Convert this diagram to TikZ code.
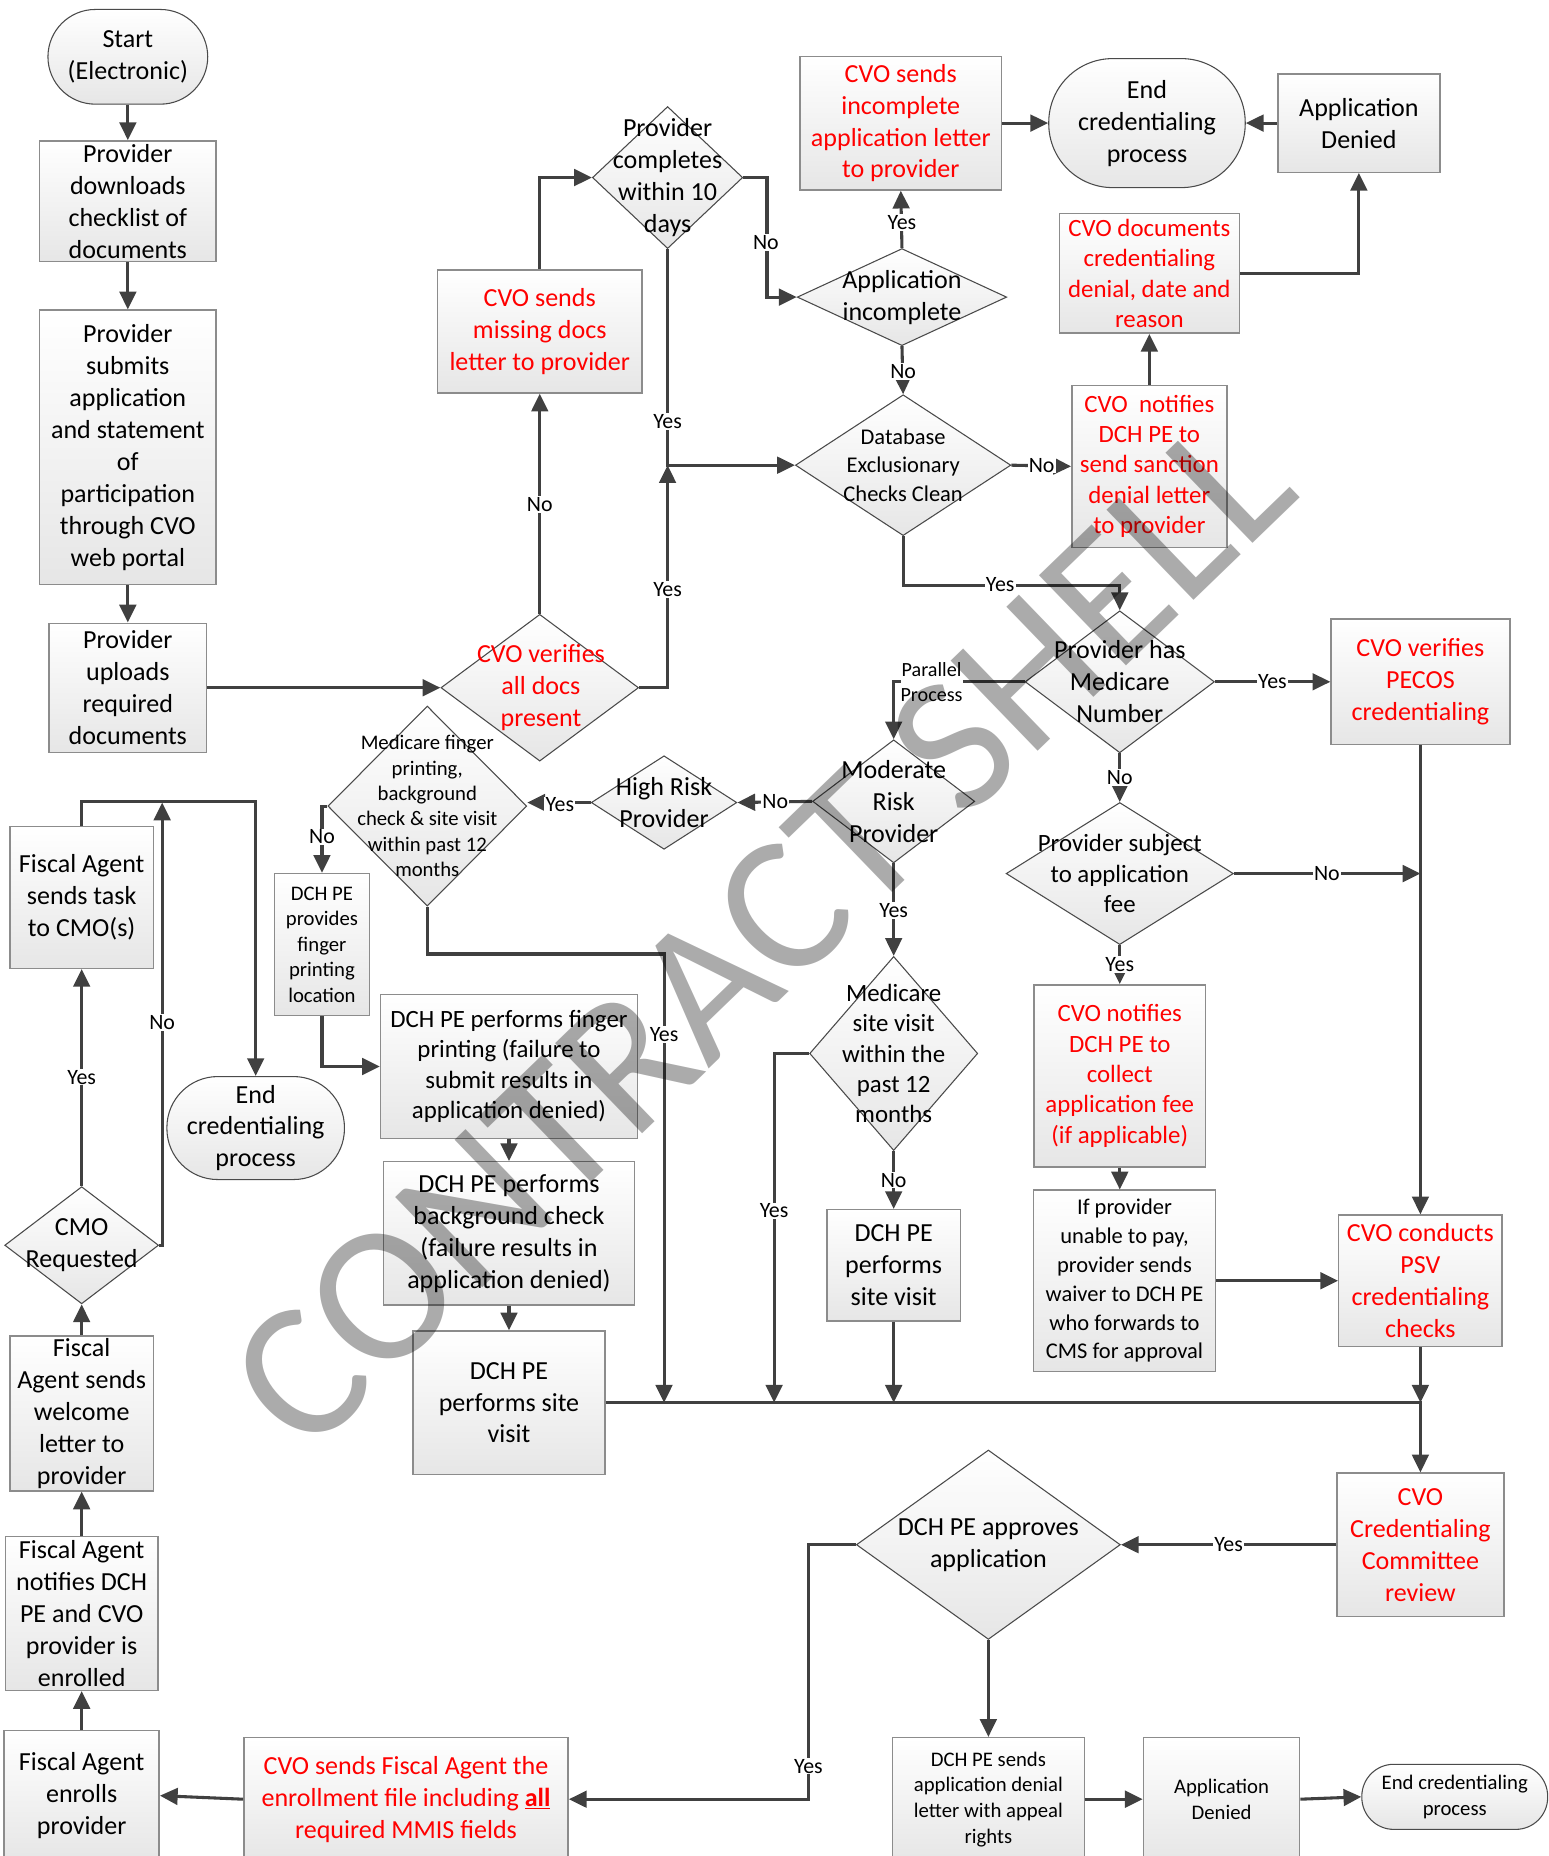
\documentclass[tikz,border=0pt]{standalone}
\usepackage{fontspec}
\setmainfont{Carlito}
\usetikzlibrary{shapes.geometric,arrows.meta,calc}
\newcommand\fsz[2]{\fontsize{#1}{#2}\selectfont}
\definecolor{linegray}{HTML}{404040}
\definecolor{boxgray}{HTML}{8C8C8C}
\definecolor{diagray}{HTML}{4A4A4A}
\definecolor{fillgray}{HTML}{E6E6E6}
\definecolor{cred}{HTML}{FF0000}
\begin{document}
\begin{tikzpicture}[x=1pt,y=-1pt,
  box/.style={rectangle,draw=boxgray,line width=1.2pt,top color=white,bottom color=fillgray,inner sep=0pt,align=center,font=\fsz{22}{27}},
  term/.style={rectangle,draw=diagray,line width=0.9pt,top color=white,bottom color=fillgray,inner sep=0pt,align=center,font=\fsz{22}{27}},
  dia/.style={diamond,draw=diagray,line width=0.9pt,top color=white,bottom color=fillgray,inner sep=0pt},
  txt/.style={align=center,inner sep=0pt,font=\fsz{22}{27}},
  rtxt/.style={text=cred},
  lab/.style={fill=white,inner sep=1pt,font=\fsz{18.5}{20}},
  arr/.style={draw=linegray,line width=2.6pt,-{Triangle[length=15pt,width=14pt]}},
]
\useasboundingbox (0,0) rectangle (1308,1568);

% ---------- left column ----------
\node[term,minimum width=135pt,minimum height=80pt,rounded corners=40pt] (start) at (108,48) {Start\\(Electronic)};
\node[box,minimum width=149pt,minimum height=102pt] (down) at (108,170) {Provider\\downloads\\checklist of\\documents};
\node[box,minimum width=149pt,minimum height=232pt] (sub) at (108,378) {Provider\\submits\\application\\and statement\\of\\participation\\through CVO\\web portal};
\node[box,minimum width=133pt,minimum height=109pt] (up) at (108,581) {Provider\\uploads\\required\\documents};

% ---------- CVO verifies ----------
\node[dia,minimum width=167pt,minimum height=124pt] (verify) at (456,581) {};
\node[txt,rtxt] (verify-t) at (457,581) {CVO verifies\\all docs\\present};
\node[box,rtxt,minimum width=173pt,minimum height=104pt] (miss) at (456,280) {CVO sends\\missing docs\\letter to provider};

\node[dia,minimum width=127pt,minimum height=120pt] (compl) at (564,150) {};
\node[txt] (compl-t) at (564,150) {Provider\\completes\\within 10\\days};

\node[box,rtxt,minimum width=170pt,minimum height=113pt] (incl) at (761,104) {CVO sends\\incomplete\\application letter\\to provider};
\node[dia,minimum width=177pt,minimum height=82pt] (inc) at (762,251) {};
\node[txt] (inc-t) at (762,251) {Application\\incomplete};
\node[dia,minimum width=182pt,minimum height=119pt] (db) at (763,393) {};
\node[txt,font=\fsz{19}{24}] (db-t) at (763,393) {Database\\Exclusionary\\Checks Clean};

\node[term,minimum width=166pt,minimum height=109pt,rounded corners=54pt] (end1) at (969,104) {End\\credentialing\\process};
\node[box,minimum width=137pt,minimum height=83pt] (den1) at (1148,104) {Application\\Denied};
\node[box,rtxt,minimum width=152pt,minimum height=101pt,font=\fsz{21}{25.7}] (cvodoc) at (971,231) {CVO documents\\credentialing\\denial, date and\\reason};
\node[box,rtxt,minimum width=131pt,minimum height=137pt,font=\fsz{21}{25.7}] (sanc) at (971,394) {CVO~~notifies\\DCH PE to\\send sanction\\denial letter\\to provider};

% ---------- Medicare / risk ----------
\node[dia,minimum width=160pt,minimum height=120pt] (medi) at (946,576) {};
\node[txt] (medi-t) at (946,576) {Provider has\\Medicare\\Number};
\node[box,rtxt,minimum width=151pt,minimum height=106pt] (pecos) at (1200,576) {CVO verifies\\PECOS\\credentialing};

\node[dia,minimum width=137pt,minimum height=104pt] (mod) at (755,677) {};
\node[txt] (mod-t) at (755,677) {Moderate\\Risk\\Provider};
\node[dia,minimum width=123pt,minimum height=79pt] (high) at (561,678) {};
\node[txt] (high-t) at (561,678) {High Risk\\Provider};
\node[dia,minimum width=168pt,minimum height=169pt] (fing) at (361,681) {};
\node[txt,font=\fsz{17.5}{21.5}] (fing-t) at (361,681) {Medicare finger\\printing,\\background\\check \& site visit\\within past 12\\months};
\node[box,minimum width=80pt,minimum height=120pt,font=\fsz{17.5}{21.5}] (prov) at (272,798) {DCH PE\\provides\\finger\\printing\\location};
\node[box,minimum width=217pt,minimum height=122pt,font=\fsz{21}{25.7}] (fp) at (430,901) {DCH PE performs finger\\printing (failure to\\submit results in\\application denied)};
\node[box,minimum width=212pt,minimum height=121pt] (bg) at (430,1042) {DCH PE performs\\background check\\(failure results in\\application denied)};
\node[box,minimum width=162pt,minimum height=121pt] (sv) at (430,1185) {DCH PE\\performs site\\visit};

\node[dia,minimum width=142pt,minimum height=164pt] (msv) at (755,890) {};
\node[txt,font=\fsz{21}{25.7}] (msv-t) at (755,890) {Medicare\\site visit\\within the\\past 12\\months};
\node[box,minimum width=113pt,minimum height=94pt] (sv2) at (755,1069) {DCH PE\\performs\\site visit};

\node[dia,minimum width=192pt,minimum height=120pt] (fee) at (946,738) {};
\node[txt,font=\fsz{21}{26}] (fee-t) at (946,738) {Provider subject\\to application\\fee};
\node[box,rtxt,minimum width=145pt,minimum height=154pt,font=\fsz{21}{25.7}] (coll) at (946,909) {CVO notifies\\DCH PE to\\collect\\application fee\\(if applicable)};
\node[box,minimum width=154pt,minimum height=153pt,font=\fsz{19}{24.4}] (waiv) at (950,1082) {If provider\\unable to pay,\\provider sends\\waiver to DCH PE\\who forwards to\\CMS for approval};
\node[box,rtxt,minimum width=138pt,minimum height=111pt] (psv) at (1200,1082) {CVO conducts\\PSV\\credentialing\\checks};
\node[box,rtxt,minimum width=141pt,minimum height=121pt] (comm) at (1200,1305) {CVO\\Credentialing\\Committee\\review};

\node[dia,minimum width=223pt,minimum height=160pt] (appr) at (835,1305) {};
\node[txt] (appr-t) at (835,1305) {DCH PE approves\\application};
\node[box,minimum width=162pt,minimum height=104pt,font=\fsz{17.5}{21.7}] (dsend) at (835,1520) {DCH PE sends\\application denial\\letter with appeal\\rights};
\node[box,minimum width=132pt,minimum height=104pt,font=\fsz{17.5}{21.5}] (den2) at (1032,1520) {Application\\Denied};
\node[term,minimum width=157pt,minimum height=55pt,rounded corners=27pt,font=\fsz{17.5}{21.5}] (end3) at (1229,1518) {End credentialing\\process};

% ---------- bottom-left ----------
\node[box,rtxt,minimum width=274pt,minimum height=104pt] (file) at (343,1520) {CVO sends Fiscal Agent the\\enrollment file including \textbf{\underline{all}}\\required MMIS fields};
\node[box,minimum width=131pt,minimum height=110pt] (enr) at (69,1517) {Fiscal Agent\\enrolls\\provider};
\node[box,minimum width=129pt,minimum height=130pt] (notif) at (69,1363) {Fiscal Agent\\notifies DCH\\PE and CVO\\provider is\\enrolled};
\node[box,minimum width=121pt,minimum height=131pt] (wel) at (69,1194) {Fiscal\\Agent sends\\welcome\\letter to\\provider};
\node[dia,minimum width=130pt,minimum height=99pt] (cmo) at (69,1052) {};
\node[txt] (cmo-t) at (69,1052) {CMO\\Requested};
\node[box,minimum width=121pt,minimum height=120pt] (task) at (69,758) {Fiscal Agent\\sends task\\to CMO(s)};
\node[term,minimum width=150pt,minimum height=87pt,rounded corners=43pt] (end2) at (216,953) {End\\credentialing\\process};

% ---------- junctions ----------
\coordinate (j1) at (564,393);
\coordinate (j2) at (561,1185);
\coordinate (j3) at (654,1185);
\coordinate (j4) at (137,678);

% ---------- connectors ----------
\draw[arr] (start.south) -- (down.north);
\draw[arr] (down.south) -- (sub.north);
\draw[arr] (sub.south) -- (up.north);
\draw[arr] (up.east) -- (verify.west);
\draw[arr] (verify.north) -- (miss.south);
\draw[arr] (miss.north) |- (compl.west);
\draw[arr] (verify.east) -| (j1);
\draw[arr] (compl.south) -- (j1) -- (db.west);
\draw[arr] (compl.east) -- ++(20,0) |- (inc.west);
\draw[arr] (inc.north) -- (incl.south);
\draw[arr] (inc.south) -- (db.north);
\draw[arr] (incl.east) -- (incl.east -| end1.west);
\draw[arr] (den1.west) -- (den1.west -| end1.east);
\draw[arr] (cvodoc.east) -| (den1.south);
\draw[arr] (sanc.north) -- (cvodoc.south);
\draw[arr] (db.east) -- (sanc.west);
\draw[arr] (db.south) -- ++(0,42) -| (medi.north);
\draw[arr] (medi.east) -- (pecos.west);
\draw[arr] (medi.west) -| (mod.north);
\draw[arr] (mod.west) -- (high.east);
\draw[arr] (high.west) -- (high.west -| fing.east);
\draw[arr] (fing.west) -| (prov.north);
\draw[arr] (fing.south) -- ++(0,40) -| (j2);
\draw[arr] (prov.south) |- (fp.west);
\draw[arr] (fp.south) -- (bg.north);
\draw[arr] (bg.south) -- (sv.north);
\draw[arr] (sv.east) -| (comm.north);
\draw[arr] (msv.west) -| (j3);
\draw[arr] (msv.south) -- (sv2.north);
\draw[arr] (sv2.south) -- (sv2.south |- j3);
\draw[arr] (mod.south) -- (msv.north);
\draw[arr] (medi.south) -- (fee.north);
\draw[arr] (fee.east) -- (fee.east -| pecos.south);
\draw[arr] (pecos.south) -- (psv.north);
\draw[arr] (fee.south) -- (coll.north);
\draw[arr] (coll.south) -- (coll.south |- waiv.north);
\draw[arr] (waiv.east) -- (psv.west);
\draw[arr] (psv.south) -- (psv.south |- j3);
\draw[arr] (comm.west) -- (appr.east);
\draw[arr] (appr.west) -- ++(-40,0) |- (file.east);
\draw[arr] (appr.south) -- (dsend.north);
\draw[arr] (dsend.east) -- (den2.west);
\draw[arr] (den2.east) -- (end3.west);
\draw[arr] (file.west) -- (enr.east);
\draw[arr] (enr.north) -- (notif.south);
\draw[arr] (notif.north) -- (wel.south);
\draw[arr] (wel.north) -- (cmo.south);
\draw[arr] (cmo.north) -- (task.south);
\draw[arr] (cmo.east) -| (j4);
\draw[arr] (task.north) -- ++(0,-20) -| (end2.north);

% ---------- connector labels ----------
\node[lab] (l1) at (456,426) {No};
\node[lab] (l2) at (564,356) {Yes};
\node[lab] (l3) at (564,498) {Yes};
\node[lab] (l4) at (647,205) {No};
\node[lab] (l5) at (762,188) {Yes};
\node[lab] (l6) at (763,314) {No};
\node[lab] (l7) at (880,393) {No};
\node[lab] (l8) at (845,494) {Yes};
\node[lab] (l9) at (1075,576) {Yes};
\node[lab] (l10) at (655,677) {No};
\node[lab] (l11) at (473,680) {Yes};
\node[lab] (l12) at (272,707) {No};
\node[lab] (l13) at (561,874) {Yes};
\node[lab] (l14) at (755,769) {Yes};
\node[lab] (l15) at (755,997) {No};
\node[lab] (l16) at (654,1023) {Yes};
\node[lab] (l17) at (946,657) {No};
\node[lab] (l18) at (1121,738) {No};
\node[lab] (l19) at (946,815) {Yes};
\node[lab] (l20) at (1038,1305) {Yes};
\node[lab] (l21) at (683,1492) {Yes};
\node[lab] (l22) at (69,910) {Yes};
\node[lab] (l23) at (137,864) {No};
\node[fill=white,inner sep=0pt,align=center,font=\fsz{17}{21}] (par) at (787,576) {Parallel\\Process};

% ---------- watermark ----------
\node[rotate=44,inner sep=0pt,font=\fsz{165}{165},text=black,text opacity=0.33] (wm) at (643,787) {CONTRACT SHELL};
\end{tikzpicture}
\end{document}
